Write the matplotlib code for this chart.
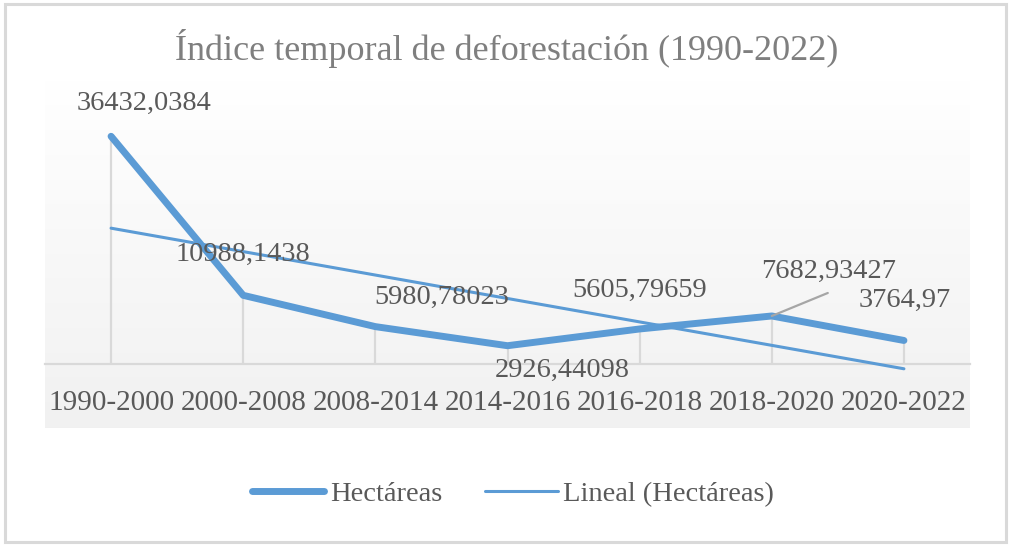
import numpy as np
import matplotlib
matplotlib.use("Agg")
import matplotlib.pyplot as plt
from matplotlib.patches import Rectangle
from matplotlib.lines import Line2D

plt.rcParams['font.family'] = ['Liberation Serif', 'DejaVu Serif']

categories = ["1990-2000", "2000-2008", "2008-2014", "2014-2016",
              "2016-2018", "2018-2020", "2020-2022"]
hectareas = [36432.0384, 10988.1438, 5980.78023, 2926.44098,
             5605.79659, 7682.93427, 3764.97]
title = "Índice temporal de deforestación (1990-2022)"
series_name = "Hectáreas"
trend_name = "Lineal (Hectáreas)"

# label offsets in pixels (dx, dy) from each point (visual layout)
label_offsets = [(33, 33), (0, 41), (66, 29), (55, -25), (0, 39), (57, 45), (1, 40)]

W, H = 1016, 550
DPI = 100
fig = plt.figure(figsize=(W / DPI, H / DPI), dpi=DPI)
fig.patch.set_facecolor("white")

def fx(px):
    return px / W

def fy(py):
    return 1 - py / H

# gradient plot-area background
bg = fig.add_axes([fx(45), fy(428), fx(970) - fx(45), fy(80) - fy(428)])
grad = np.linspace(1.0, 0.945, 256).reshape(-1, 1)
bg.imshow(np.dstack([grad, grad, grad]), aspect="auto", extent=[0, 1, 0, 1],
          interpolation="bilinear")
bg.set_axis_off()

ax = fig.add_axes([fx(45), fy(364), fx(970) - fx(45), fy(114) - fy(364)])
ax.set_facecolor("none")
x = np.arange(len(categories))
ax.set_xlim(-0.5, len(categories) - 0.5)
ax.set_ylim(0, 40000)

blue = "#5B9BD5"
grid_gray = "#D9D9D9"
text_gray = "#595959"

# drop lines
ax.vlines(x, 0, hectareas, colors=grid_gray, lw=1.6, zorder=1)

# trendline (linear fit on category index)
coef = np.polyfit(x + 1, hectareas, 1)
trend = np.polyval(coef, x + 1)
ax.plot(x, trend, color=blue, lw=2.2, solid_capstyle="round", zorder=3, clip_on=False)

ax.plot(x, hectareas, color=blue, lw=5.0, solid_capstyle="round",
        solid_joinstyle="round", zorder=4, clip_on=False)

for s in ["top", "right", "left"]:
    ax.spines[s].set_visible(False)
ax.spines["bottom"].set_color(grid_gray)
ax.spines["bottom"].set_linewidth(1.6)
ax.set_yticks([])
ax.set_xticks(x)
ax.set_xticklabels(categories, fontsize=21, color=text_gray)
ax.tick_params(axis="x", length=0, pad=18.5)

# data labels
for i, (v, (dx, dy)) in enumerate(zip(hectareas, label_offsets)):
    lbl = str(v).replace(".", ",")
    ax.annotate(lbl, (x[i], v), xytext=(dx * 0.72, dy * 0.72),
                textcoords="offset points", ha="center", va="center",
                fontsize=20.4, color=text_gray, zorder=6, annotation_clip=False)

# leader line for 2018-2020 label
ax.annotate("", (x[5], hectareas[5]), xytext=(56 * 0.72, 23 * 0.72),
            textcoords="offset points",
            arrowprops=dict(arrowstyle="-", color="#A6A6A6", lw=1.6,
                            shrinkA=0, shrinkB=0), zorder=5)

fig.text(fx(507), fy(49), title, ha="center", va="center",
         fontsize=26, color="#7F7F7F")

handles = [Line2D([], [], color=blue, lw=5.0, solid_capstyle="round"),
           Line2D([], [], color=blue, lw=2.2, solid_capstyle="round")]
fig.legend(handles, [series_name, trend_name], loc="center",
           bbox_to_anchor=(fx(513), fy(494)), ncol=2, frameon=False,
           fontsize=20.5, labelcolor=text_gray, handlelength=2.55,
           handletextpad=0.2, columnspacing=1.5)

fig.add_artist(Rectangle((fx(5), fy(542)), fx(1006) - fx(5), fy(4) - fy(542),
                         transform=fig.transFigure, fill=False,
                         edgecolor=grid_gray, lw=2.2))

fig.savefig("out.png", dpi=DPI)
